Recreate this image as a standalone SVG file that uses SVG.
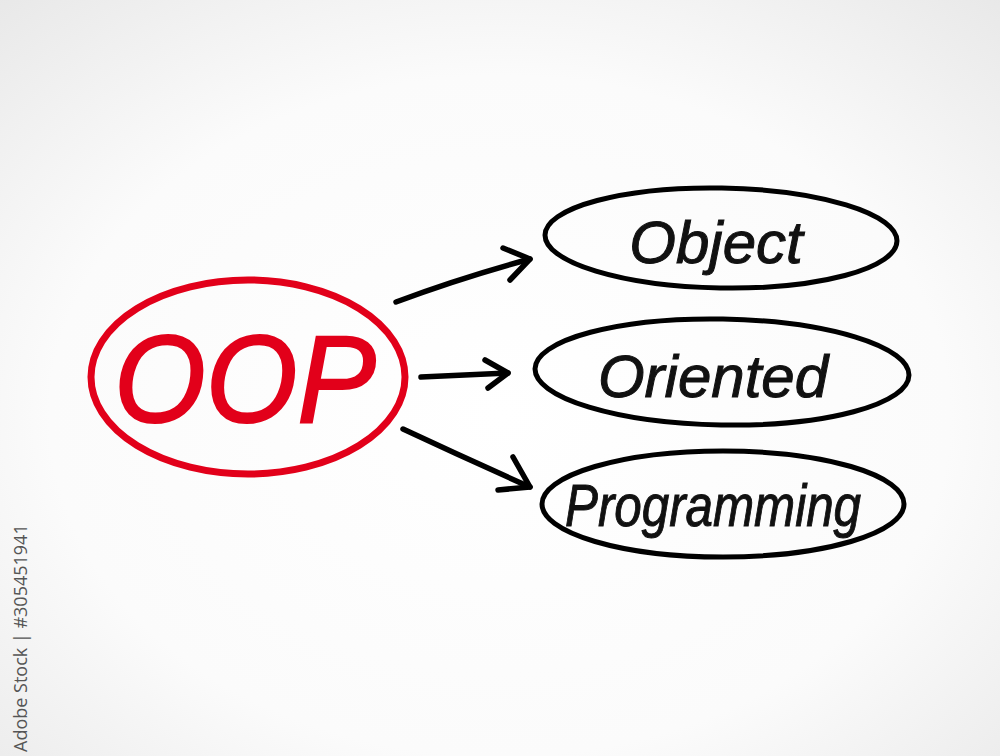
<svg xmlns="http://www.w3.org/2000/svg" width="1000" height="756" viewBox="0 0 1000 756">
<defs>
<radialGradient id="bg" cx="0.5" cy="0.55" r="0.75">
<stop offset="0" stop-color="#ffffff"/>
<stop offset="0.6" stop-color="#fbfbfb"/>
<stop offset="1" stop-color="#e8e8e8"/>
</radialGradient>
<style>
.oval{fill:none;stroke:#000;stroke-width:5}
.lbl{font-family:"Liberation Sans",Arial,sans-serif;font-style:italic;font-size:60px;fill:#111;stroke:#111;stroke-width:1;text-anchor:middle}
.conn path{fill:none;stroke:#000;stroke-width:5.5;stroke-linecap:round;stroke-linejoin:round}
</style>
</defs>
<rect width="1000" height="756" fill="url(#bg)"/>
<text transform="translate(27,752) rotate(-90)" font-family="'Open Sans','Liberation Sans',sans-serif" font-size="18" fill="#555">Adobe Stock | #305451941</text>
<g id="oop">
<ellipse cx="248" cy="377" rx="157" ry="97" fill="none" stroke="#e2001a" stroke-width="7"/>
<text x="245" y="422" font-family="'Liberation Sans',Arial,sans-serif" font-style="italic" font-size="125" fill="#e2001a" stroke="#e2001a" stroke-width="2" text-anchor="middle" textLength="262" lengthAdjust="spacingAndGlyphs">OOP</text>
</g>
<g id="object">
<ellipse class="oval" cx="721" cy="238" rx="176" ry="50" transform="rotate(1 721 238)"/>
<text class="lbl" x="716" y="263">Object</text>
</g>
<g id="oriented">
<ellipse class="oval" cx="722" cy="372" rx="187" ry="53" transform="rotate(1 722 372)"/>
<text class="lbl" x="713" y="397">Oriented</text>
</g>
<g id="programming">
<ellipse class="oval" cx="723" cy="504" rx="181" ry="53"/>
<text class="lbl" x="713" y="526" textLength="296" lengthAdjust="spacingAndGlyphs">Programming</text>
</g>
<g class="conn" id="connectors">
<path d="M396 302 Q460 278 530 259"/>
<path d="M503 248 L530 259 L510 280"/>
<path d="M421 377 L508 373"/>
<path d="M485 360 L508 373 L488 388"/>
<path d="M403 429 Q465 458 530 487"/>
<path d="M513 457 L530 487 L498 490"/>
</g>
</svg>
